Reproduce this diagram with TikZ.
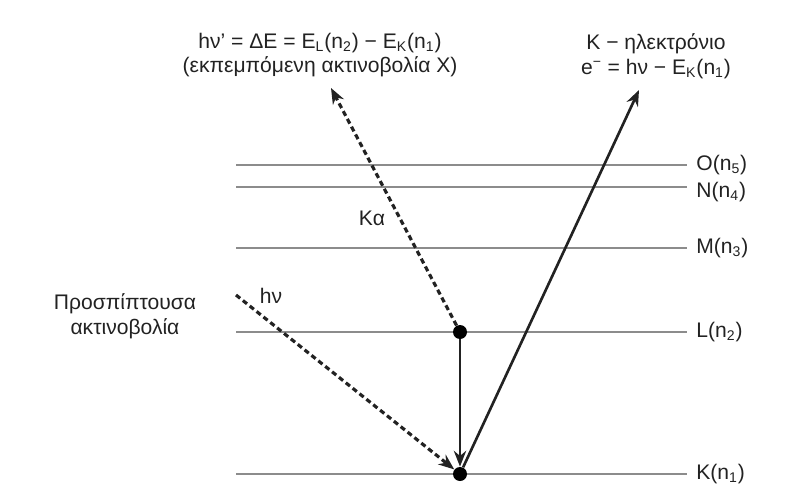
\documentclass[tikz,border=0pt]{standalone}
\usepackage{fontspec}
\setmainfont{Liberation Sans}
\usetikzlibrary{arrows.meta,positioning}
\definecolor{ink}{HTML}{222222}
\definecolor{levelgray}{HTML}{8C8C8C}

\begin{document}
\begin{tikzpicture}[
  x=0.02cm, y=-0.02cm,
  txt/.style={font=\fontsize{12}{14}\selectfont, text=ink, align=center, inner sep=0pt},
  lvlname/.style={txt, anchor=west},
  level/.style={draw=levelgray, line width=1.2pt, shorten >=5pt},
  dot/.style={circle, fill=black, inner sep=0pt, minimum size=2.8mm},
  photon/.style={-{Stealth[length=9pt,width=7pt]}, dash pattern=on 3pt off 2pt, line width=1.8pt, draw=ink},
  elec/.style={-{Stealth[length=9pt,width=7pt]}, line width=1.5pt, draw=ink}
]
\useasboundingbox (0,0) rectangle (785,504);

% energy levels
\foreach \nm/\yy/\dy/\lab in {O/165/0/O(n\textsubscript{5}), N/187/5/N(n\textsubscript{4}),
    M/248/0/M(n\textsubscript{3}), L/332/0/L(n\textsubscript{2}), K/474/0/K(n\textsubscript{1})}{
  \coordinate (\nm0) at (236,\yy);
  \node[lvlname] (\nm) at (696,\yy+\dy) {\lab};
  \draw[level] (\nm0) -- (\nm0 -| \nm.west);
}

% electrons
\node[dot] (eL) at (460,332) {};
\node[dot] (eK) at (460,474) {};

\coordinate (hvin) at (236,295);
\coordinate (katip) at (331,88);
\coordinate (etip) at (639,90);

\draw[photon] (hvin) -- (eK);
\draw[photon] (eL) -- (katip);
\draw[elec] (eL) -- (eK);
\draw[elec] (eK) -- (etip);

% labels
\node[txt] (xray) at (320,55) {hν' = ΔE = E\textsubscript{L}(n\textsubscript{2}) − E\textsubscript{K}(n\textsubscript{1})\\(εκπεμπόμενη ακτινοβολία X)};
\node[txt] (photoel) at (656,56) {K − ηλεκτρόνιο\\e\textsuperscript{−} = hν − E\textsubscript{K}(n\textsubscript{1})};
\node[txt] (ka) at (372,218) {Kα};
\node[txt] (hv) at (271,296) {hν};
\node[txt] (incident) at (125,316) {Προσπίπτουσα\\ακτινοβολία};
\end{tikzpicture}
\end{document}
